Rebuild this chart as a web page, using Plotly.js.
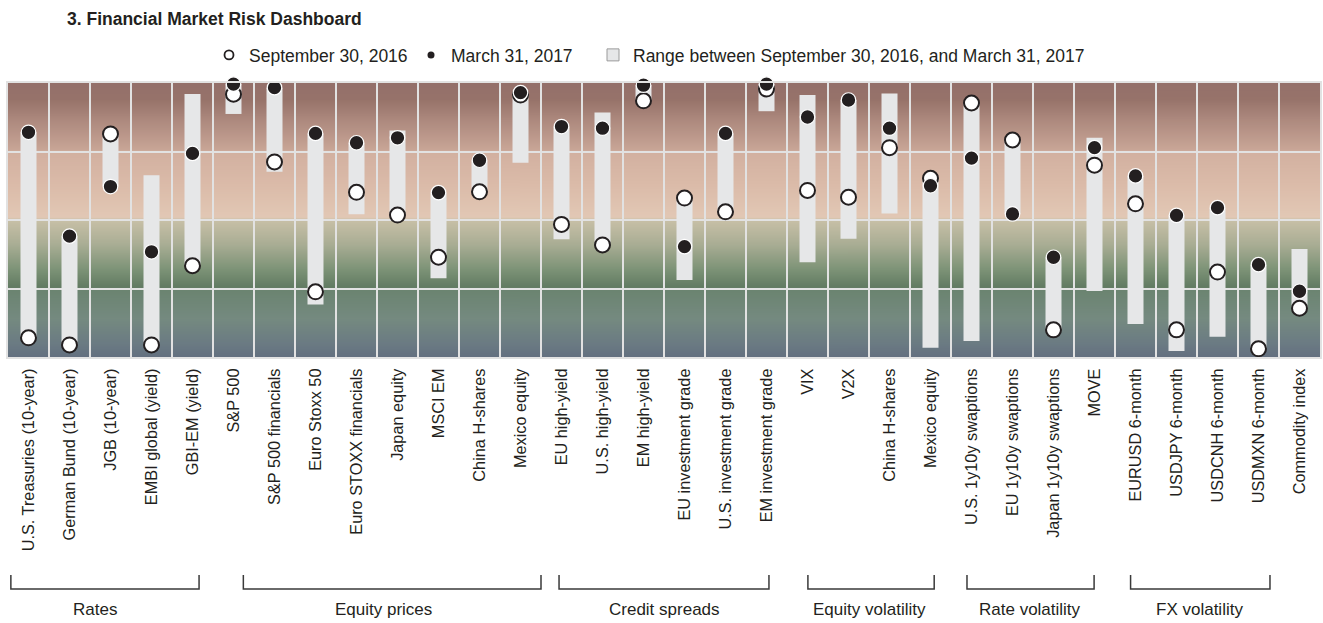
<!DOCTYPE html>
<html>
<head>
<meta charset="utf-8">
<script src="https://cdn.plot.ly/plotly-3.0.1.min.js"></script>
<style>
  html, body { margin: 0; padding: 0; background: #ffffff; }
  #chart { width: 1323px; height: 623px; }
</style>
</head>
<body>
<div id="chart"></div>
<script>
// ---------------- DATA ----------------
const categories = [
  "U.S. Treasuries (10-year)", "German Bund (10-year)", "JGB (10-year)", "EMBI global (yield)", "GBI-EM (yield)",
  "S&P 500", "S&P 500 financials", "Euro Stoxx 50", "Euro STOXX financials", "Japan equity", "MSCI EM",
  "China H-shares", "Mexico equity",
  "EU high-yield", "U.S. high-yield", "EM high-yield", "EU investment grade", "U.S. investment grade", "EM investment grade",
  "VIX", "V2X", "China H-shares", "Mexico equity",
  "U.S. 1y10y swaptions", "EU 1y10y swaptions", "Japan 1y10y swaptions", "MOVE",
  "EURUSD 6-month", "USDJPY 6-month", "USDCNH 6-month", "USDMXN 6-month",
  "Commodity index"
];

// September 30, 2016 (open circles)
const sep2016 = [
  7.0, 4.4, 81.4, 4.4, 33.3,
  95.9, 71.2, 23.8, 60.1, 51.8, 36.4, 60.3, 95.6,
  48.4, 40.9, 93.5, 58.0, 53.0, 97.8,
  60.8, 58.3, 76.4, 65.2,
  92.7, 79.2, 9.9, 70.0,
  55.9, 9.9, 31.0, 3.0,
  17.8
];

// March 31, 2017 (filled circles)
const mar2017 = [
  82.0, 44.1, 62.2, 38.4, 74.3,
  99.6, 98.3, 81.6, 78.2, 80.0, 60.0, 71.8, 96.5,
  84.1, 83.5, 99.2, 40.3, 81.6, 99.6,
  87.6, 93.8, 83.5, 62.5,
  72.6, 52.2, 36.4, 76.4,
  66.1, 51.7, 54.5, 33.7,
  24.0
];

// Range between September 30, 2016, and March 31, 2017
const rangeLow = [
  7.0, 4.4, 62.2, 4.4, 33.3,
  88.7, 67.6, 19.2, 52.1, 51.8, 28.7, 60.3, 70.9,
  43.0, 40.9, 93.5, 28.1, 53.0, 89.7,
  34.6, 43.2, 52.4, 3.4,
  5.8, 52.2, 9.9, 24.1,
  12.0, 2.2, 7.4, 3.0,
  17.8
];
const rangeHigh = [
  82.0, 44.1, 81.4, 66.3, 96.0,
  99.6, 98.3, 81.6, 78.2, 82.7, 60.0, 71.8, 96.5,
  84.1, 89.2, 99.2, 58.0, 81.6, 99.6,
  95.6, 93.8, 96.2, 65.2,
  92.7, 79.2, 36.4, 80.0,
  66.1, 51.7, 54.5, 33.7,
  39.4
];

const groupNames = ["Rates", "Equity prices", "Credit spreads", "Equity volatility", "Rate volatility", "FX volatility"];

const legendNames = ["September 30, 2016", "March 31, 2017", "Range between September 30, 2016, and March 31, 2017"];
const chartTitle = "3. Financial Market Risk Dashboard";

// ---------------- LAYOUT HELPERS (positions, not data) ----------------
const bracketSpans = [[-0.43, 4.16], [5.24, 12.5], [12.94, 18.06], [19.01, 22.09], [22.89, 25.99], [26.88, 30.28]];
const groupLabelX = [1.62, 8.65, 15.5, 20.5, 24.43, 28.57];

const FONT = "'Liberation Sans', Arial, sans-serif";
const INK = "#231f20";

// background gradient drawn on a canvas and placed behind the plot
function gradientURL() {
  const c = document.createElement('canvas');
  c.width = 4; c.height = 548;
  const g = c.getContext('2d');
  const grad = g.createLinearGradient(0, 0, 0, c.height);
  const stops = [
    [0.000, '#94706a'], [0.060, '#97736a'], [0.135, '#ad897e'], [0.245, '#c9a697'],
    [0.250, '#d2b0a0'], [0.370, '#dbbba9'], [0.490, '#e2c8b5'], [0.500, '#c8c0a7'],
    [0.590, '#a9ad94'], [0.680, '#7d9377'], [0.745, '#627b62'], [0.752, '#6b8470'],
    [0.860, '#758a80'], [0.950, '#6b7b83'], [1.000, '#647080']
  ];
  stops.forEach(s => grad.addColorStop(s[0], s[1]));
  g.fillStyle = grad;
  g.fillRect(0, 0, c.width, c.height);
  return c.toDataURL('image/png');
}

const xIdx = categories.map((_, i) => i);

const traces = [
  {
    type: 'bar', x: xIdx, y: rangeHigh.map((h, i) => h - rangeLow[i]), base: rangeLow,
    width: 0.39, marker: { color: '#e6e7e8', line: { width: 0 } },
    showlegend: false, hoverinfo: 'skip'
  },
  {
    type: 'scatter', mode: 'markers', x: xIdx, y: sep2016, cliponaxis: false,
    marker: { symbol: 'circle', size: 15, color: '#ffffff', line: { color: INK, width: 2 } },
    showlegend: false, name: legendNames[0]
  },
  {
    type: 'scatter', mode: 'markers', x: xIdx, y: mar2017, cliponaxis: false,
    marker: { symbol: 'circle', size: 14.5, color: INK, line: { color: '#ffffff', width: 1.2 } },
    showlegend: false, name: legendNames[1]
  },
  // legend-only entries
  {
    type: 'scatter', mode: 'markers', x: [null], y: [null], name: legendNames[0], legendwidth: 157,
    marker: { symbol: 'circle', size: 9, color: '#ffffff', line: { color: INK, width: 1.8 } }
  },
  {
    type: 'scatter', mode: 'markers', x: [null], y: [null], name: legendNames[1], legendwidth: 137,
    marker: { symbol: 'circle', size: 7, color: INK, line: { width: 0 } }
  },
  {
    type: 'bar', x: [null], y: [null], name: legendNames[2],
    marker: { color: '#e6e7e8', line: { color: '#9a9a9a', width: 1 } }
  }
];

const pyToPaper = py => (357 - py) / 274;

const shapes = bracketSpans.map(s => ({
  type: 'path', xref: 'x', yref: 'paper',
  path: `M ${s[0]},${pyToPaper(575)} L ${s[0]},${pyToPaper(589)} L ${s[1]},${pyToPaper(589)} L ${s[1]},${pyToPaper(575)}`,
  line: { color: '#3a3a3a', width: 1.5 }
}));

const annotations = groupNames.map((n, i) => ({
  text: n, xref: 'x', yref: 'paper', x: groupLabelX[i], y: pyToPaper(609),
  xanchor: 'center', yanchor: 'middle', showarrow: false,
  font: { family: FONT, size: 17, color: INK }
}));

const layout = {
  width: 1323, height: 623,
  margin: { l: 8, r: 3, t: 83, b: 266 },
  paper_bgcolor: '#ffffff',
  plot_bgcolor: 'rgba(0,0,0,0)',
  barmode: 'overlay',
  title: {
    text: '<b>' + chartTitle + '</b>',
    x: 67 / 1323, xref: 'container', xanchor: 'left',
    y: 1 - 19 / 623, yref: 'container', yanchor: 'middle',
    font: { family: FONT, size: 17.5, color: INK }
  },
  showlegend: true,
  legend: {
    orientation: 'h', x: (209 - 8) / 1312, xanchor: 'left', y: 1 + (83 - 55) / 274, yanchor: 'middle',
    font: { family: FONT, size: 17.5, color: INK }, bgcolor: 'rgba(0,0,0,0)',
    traceorder: 'normal', itemclick: false
  },
  xaxis: {
    range: [-0.5, 31.5], tickmode: 'array', tickvals: xIdx, ticktext: categories,
    tickangle: -90, ticks: '', showgrid: false, zeroline: false,
    ticklabelstandoff: 3,
    tickfont: { family: FONT, size: 16.3, color: INK },
    minor: { tick0: 0.5, dtick: 1, showgrid: true, gridcolor: '#e2e2e2', gridwidth: 2, ticks: '' },
    showline: true, linecolor: '#e2e2e2', linewidth: 2, mirror: true, fixedrange: true
  },
  yaxis: {
    range: [0, 100], tickmode: 'array', tickvals: [25, 50, 75], showticklabels: false,
    showgrid: true, gridcolor: '#e2e2e2', gridwidth: 2, zeroline: false, ticks: '',
    showline: true, linecolor: '#e2e2e2', linewidth: 2, mirror: true, fixedrange: true
  },
  images: [{
    source: gradientURL(), xref: 'x', yref: 'y', x: -0.5, y: 100, sizex: 32, sizey: 100,
    xanchor: 'left', yanchor: 'top', sizing: 'stretch', layer: 'below'
  }],
  shapes: shapes,
  annotations: annotations,
  hovermode: false
};

Plotly.newPlot('chart', traces, layout, { displayModeBar: false, staticPlot: true });
</script>
</body>
</html>
